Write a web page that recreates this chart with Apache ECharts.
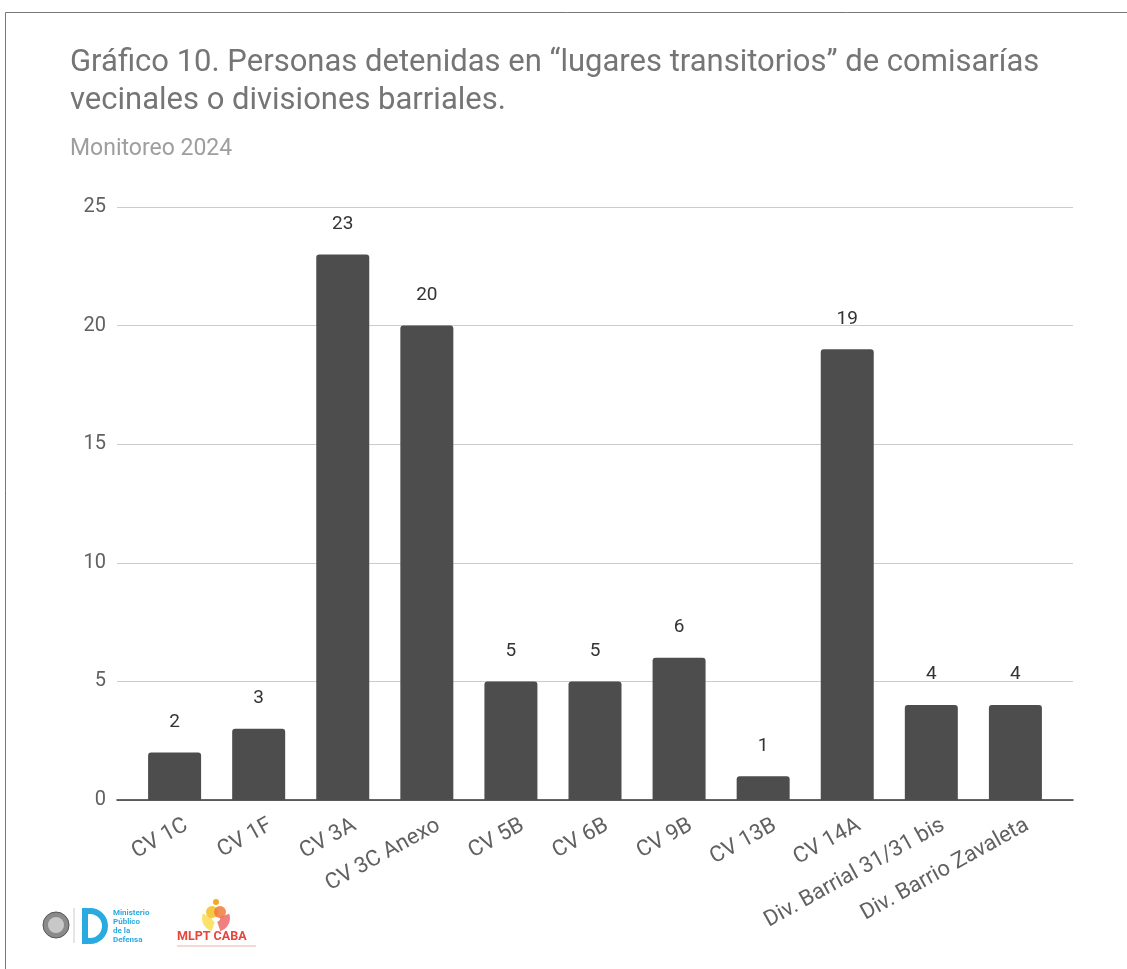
<!DOCTYPE html>
<html><head><meta charset="utf-8">
<script src="https://cdn.jsdelivr.net/npm/echarts@6/dist/echarts.min.js"></script>
<style>html,body{margin:0;padding:0;background:#fff}#c{width:1127px;height:969px}</style>
</head><body><div id="c"></div>
<script>
const categories = ["CV 1C","CV 1F","CV 3A","CV 3C Anexo","CV 5B","CV 6B","CV 9B","CV 13B","CV 14A","Div. Barrial 31/31 bis","Div. Barrio Zavaleta"];
const values = [2,3,23,20,5,5,6,1,19,4,4];
const yTicks = [0,5,10,15,20,25];
const titleText = "Gráfico 10. Personas detenidas en “lugares transitorios” de comisarías\nvecinales o divisiones barriales.";
const subtitleText = "Monitoreo 2024";

const LABEL_SHIFT = 0.14; // label anchor shift (in category units) to the right of bar center
const chart = echarts.init(document.getElementById('c'), null, {renderer:'canvas'});
const idx = categories.map((_, i) => i + LABEL_SHIFT);
chart.setOption({
  animation:false,
  backgroundColor:'#fff',
  title:[{
    text:titleText, left:70, top:44, padding:0,
    textStyle:{fontFamily:'Roboto', fontWeight:'normal', fontSize:31, color:'#757575', lineHeight:38}
  },{
    text:subtitleText, left:70, top:138, padding:0,
    textStyle:{fontFamily:'Roboto', fontWeight:'normal', fontSize:23, color:'#9e9e9e'}
  }],
  grid:{left:117, right:54, top:207, bottom:169, containLabel:false},
  xAxis:{
    type:'value', min:-0.685, max:10.685,
    axisLine:{show:true, onZero:false, lineStyle:{color:'#333', width:1.5}},
    axisTick:{show:false},
    splitLine:{show:false},
    axisLabel:{
      customValues: idx,
      rotate:29, margin:24,
      fontFamily:'Roboto', fontSize:22, color:'#616161',
      formatter: v => categories[Math.round(v)]
    }
  },
  yAxis:{
    type:'value', min:0, max:25, interval:5,
    axisLine:{show:false}, axisTick:{show:false},
    splitLine:{lineStyle:{color:'#cccccc', width:1}},
    axisLabel:{fontFamily:'Roboto', fontSize:20, color:'#616161', margin:11}
  },
  series:[{
    type:'bar',
    data: values.map((v,i)=>[i,v]),
    barWidth:53,
    itemStyle:{color:'#4d4d4d', borderRadius:[3,3,0,0]},
    label:{show:true, position:'top', distance:21, fontFamily:'Roboto', fontSize:19, color:'#333',
      formatter: p => p.value[1]}
  }],
  graphic:[
    {type:'line', shape:{x1:5.5,y1:12.5,x2:1127,y2:12.5}, style:{stroke:'#777', lineWidth:1}},
    {type:'line', shape:{x1:5.5,y1:12.5,x2:5.5,y2:969}, style:{stroke:'#777', lineWidth:1}},
    {type:'circle', shape:{cx:56,cy:925,r:13}, style:{fill:'#8a8a8a', stroke:'#555', lineWidth:1}},
    {type:'circle', shape:{cx:56,cy:925,r:8}, style:{fill:'#c8c8c8'}},
    {type:'ring', shape:{cx:90,cy:926,r:18,r0:12}, style:{fill:'#29abe2'}},
    {type:'rect', shape:{x:71,y:906,width:11,height:40}, style:{fill:'#fff'}},
    {type:'rect', shape:{x:82,y:908,width:6,height:36}, style:{fill:'#29abe2'}},
    {type:'line', shape:{x1:74,y1:908,x2:74,y2:943}, style:{stroke:'#ccc', lineWidth:1}},
    {type:'text', x:113, y:908, style:{text:'Ministerio\nPúblico\nde la\nDefensa', fontFamily:'Roboto', fontSize:8, fontWeight:'bold', lineHeight:9, fill:'#29abe2'}},
    {type:'sector', shape:{cx:216,cy:918,r:14,r0:4,startAngle:Math.PI*0.6,endAngle:Math.PI*1.1}, style:{fill:'#fbe36b'}},
    {type:'sector', shape:{cx:216,cy:918,r:14,r0:4,startAngle:Math.PI*1.9,endAngle:Math.PI*2.4}, style:{fill:'#f08080'}},
    {type:'circle', shape:{cx:212,cy:912,r:6}, style:{fill:'#f5c842'}},
    {type:'circle', shape:{cx:220,cy:912,r:6}, style:{fill:'#f07a3a', opacity:0.85}},
    {type:'circle', shape:{cx:216,cy:902,r:3}, style:{fill:'#f5a623'}},
    {type:'text', x:177, y:930, style:{text:'MLPT CABA', fontFamily:'Roboto', fontSize:12.5, fontWeight:'bold', fill:'#e8453c'}},
    {type:'line', shape:{x1:177,y1:946,x2:256,y2:946}, style:{stroke:'#e9b3b0', lineWidth:1}}
  ]
});
</script></body></html>
